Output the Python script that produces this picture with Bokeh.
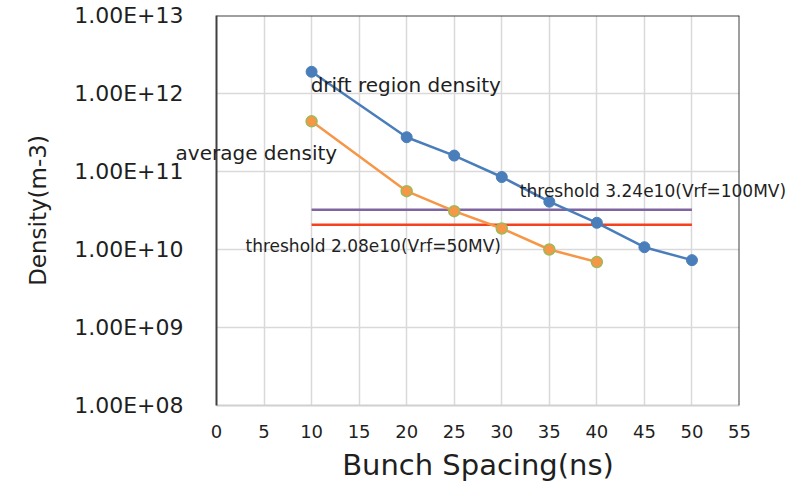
from bokeh.plotting import figure
from bokeh.layouts import column
from bokeh.models import (FixedTicker, CustomJSTickFormatter, Label, Span, Range1d)
from bokeh.embed import file_html
from bokeh.resources import INLINE
import math

# Bunch spacing (ns) and plasma densities (m^-3)
drift_spacing = [10, 20, 25, 30, 35, 40, 45, 50]
drift_density = [1.9e12, 2.75e11, 1.6e11, 8.5e10, 4.1e10, 2.2e10, 1.07e10, 7.3e9]

avg_spacing = [10, 20, 25, 30, 35, 40]
avg_density = [4.4e11, 5.6e10, 3.1e10, 1.86e10, 1.0e10, 6.9e9]

# Multipacting thresholds for two RF voltages
threshold_x = [10, 50]
threshold_100mv = 3.24e10
threshold_50mv = 2.08e10

x_ticks = [0, 5, 10, 15, 20, 25, 30, 35, 40, 45, 50, 55]
y_ticks = [1e8, 1e9, 1e10, 1e11, 1e12, 1e13]

FONT = "DejaVu Sans"
TEXT = "#1f1f1f"

W, H = 804, 486
LEFT, RIGHT, TOP, BOTTOM = 216, 65, 15, 81
X0, X1 = 0, 55
Y0, Y1 = 1e8, 1e13

p = figure(width=W, height=H, y_axis_type="log",
           x_range=Range1d(X0, X1), y_range=Range1d(Y0, Y1),
           output_backend="svg", toolbar_location=None,
           min_border_left=LEFT, min_border_right=RIGHT,
           min_border_top=TOP, min_border_bottom=BOTTOM,
           frame_align=False)
p.outline_line_color = None
p.background_fill_color = "white"

# Grid
p.xgrid.ticker = FixedTicker(ticks=x_ticks)
p.ygrid.ticker = FixedTicker(ticks=y_ticks)
for g in (p.xgrid, p.ygrid):
    g.grid_line_color = "#d9d9d9"
    g.grid_line_width = 1.5
p.ygrid.minor_grid_line_color = None

# X axis
xa = p.xaxis[0]
xa.ticker = FixedTicker(ticks=x_ticks)
xa.axis_line_color = "#d0d0d0"
xa.axis_line_width = 2
xa.major_tick_line_color = None
xa.major_tick_out = 0
xa.major_tick_in = 0
xa.minor_tick_line_color = None
xa.major_label_text_font = FONT
xa.major_label_text_font_size = "18px"
xa.major_label_text_color = TEXT
xa.major_label_standoff = 19
xa.axis_label = "Bunch Spacing(ns)"
xa.axis_label_text_font = FONT
xa.axis_label_text_font_size = "29px"
xa.axis_label_text_font_style = "normal"
xa.axis_label_text_color = TEXT
xa.axis_label_standoff = 7

# Y axis
ya = p.yaxis[0]
ya.ticker = FixedTicker(ticks=y_ticks)
ya.formatter = CustomJSTickFormatter(code="""
    const e = Math.round(Math.log10(tick));
    return "1.00E+" + (e < 10 ? "0" + e : String(e));
""")
ya.axis_line_color = "#404040"
ya.axis_line_width = 2
ya.major_tick_line_color = None
ya.major_tick_out = 0
ya.major_tick_in = 0
ya.minor_tick_line_color = None
ya.major_label_text_font = FONT
ya.major_label_text_font_size = "22px"
ya.major_label_text_color = TEXT
ya.major_label_standoff = 33
ya.axis_label = "Density(m-3)"
ya.axis_label_text_font = FONT
ya.axis_label_text_font_size = "23px"
ya.axis_label_text_font_style = "normal"
ya.axis_label_text_color = TEXT
ya.axis_label_standoff = 20

# Dark frame edges on top and right
p.add_layout(Span(location=Y1, dimension="width", line_color="#404040", line_width=2))
p.add_layout(Span(location=X1, dimension="height", line_color="#404040", line_width=2))

# Threshold lines
p.line(threshold_x, [threshold_100mv] * 2, line_color="#8064A2", line_width=2.5)
p.line(threshold_x, [threshold_50mv] * 2, line_color="#F4421F", line_width=2.5)

# Density curves
p.line(drift_spacing, drift_density, line_color="#4A7EBB", line_width=2.5)
p.scatter(drift_spacing, drift_density, size=11, fill_color="#4A7EBB",
          line_color="#4A7EBB")
p.line(avg_spacing, avg_density, line_color="#F79646", line_width=2.5)
p.scatter(avg_spacing, avg_density, size=11, fill_color="#F79646",
          line_color="#9BBB59", line_width=1.5)

# Transparent layer over the whole canvas for the text notes, so that
# notes running past the plot frame are not cut off. Its ranges extend
# the main ranges out to the canvas edges, keeping data coordinates aligned.
fw, fh = W - LEFT - RIGHT, H - TOP - BOTTOM
dx = (X1 - X0) / fw
ly0, ly1 = math.log10(Y0), math.log10(Y1)
dly = (ly1 - ly0) / fh
over = figure(width=W, height=H, y_axis_type="log",
              x_range=Range1d(X0 - LEFT * dx, X1 + RIGHT * dx),
              y_range=Range1d(10 ** (ly0 - BOTTOM * dly), 10 ** (ly1 + TOP * dly)),
              output_backend="svg", toolbar_location=None,
              x_axis_location=None, y_axis_location=None,
              min_border=0, min_border_left=0, min_border_right=0,
              min_border_top=0, min_border_bottom=0,
              frame_align=False, margin=(-H, 0, 0, 0))
over.grid.visible = False
over.outline_line_color = None
over.background_fill_alpha = 0
over.border_fill_alpha = 0

def note(text, x, y, size):
    over.add_layout(Label(x=x, y=y, text=text, text_font=FONT,
                          text_font_size=size, text_color=TEXT,
                          text_baseline="middle", text_align="left"))

note("drift region density", 9.9, 1.3e12, "20px")
note("average density", -4.3, 1.74e11, "20px")
note("threshold 3.24e10(Vrf=100MV)", 31.9, 5.7e10, "17px")
note("threshold 2.08e10(Vrf=50MV)", 3.05, 1.12e10, "17px")

layout = column(p, over)
open("out.html", "w").write(file_html(layout, INLINE))
